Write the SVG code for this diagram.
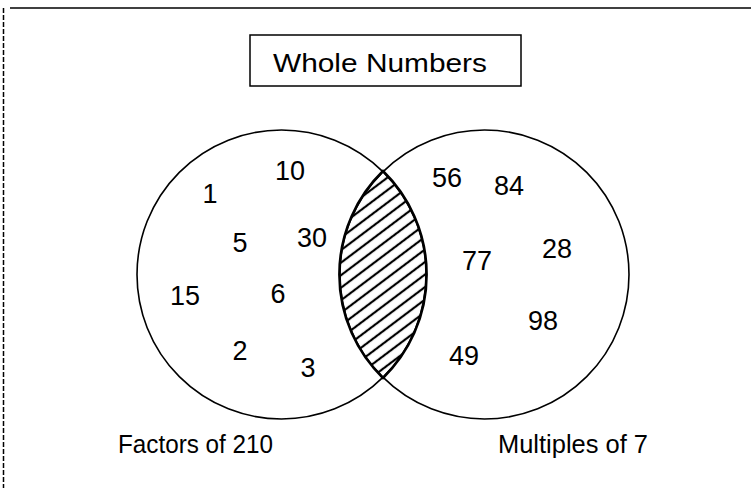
<svg xmlns="http://www.w3.org/2000/svg" width="751" height="488" viewBox="0 0 751 488">
<style>
.num{font-family:"Liberation Sans",Arial,sans-serif;font-size:27px;fill:#000;text-anchor:middle}
.lbl{font-family:"Liberation Sans",Arial,sans-serif;font-size:26px;fill:#000}
.circ{fill:none;stroke:#000;stroke-width:1.6}
</style>
<defs>
<pattern id="hatch" patternUnits="userSpaceOnUse" width="10" height="10" patternTransform="rotate(-37)">
<line x1="-1" y1="5" x2="11" y2="5" stroke="#000" stroke-width="2.2"/>
</pattern>
</defs>
<rect width="751" height="488" fill="#fff"/>
<g id="frame">
<line x1="10" y1="8" x2="751" y2="8" stroke="#000" stroke-width="1.5"/>
<line x1="3.5" y1="8" x2="3.5" y2="488" stroke="#000" stroke-width="1.5" stroke-dasharray="5 2"/>
</g>
<g id="title">
<rect x="250" y="35" width="271" height="51" fill="none" stroke="#000" stroke-width="1.5"/>
<text x="273" y="72" class="lbl" font-size="27" textLength="214" lengthAdjust="spacingAndGlyphs">Whole Numbers</text>
</g>
<g id="intersection">
<path d="M383,171 A144.5,144.5 0 0,0 383,378 A144.5,144.5 0 0,0 383,171 Z" fill="url(#hatch)" stroke="#000" stroke-width="2.5"/>
</g>
<g id="factors">
<circle cx="281.5" cy="274.5" r="144.5" class="circ"/>
<text x="210" y="203" class="num">1</text>
<text x="290" y="180" class="num">10</text>
<text x="240" y="252" class="num">5</text>
<text x="312" y="247" class="num">30</text>
<text x="185" y="305" class="num">15</text>
<text x="278" y="303" class="num">6</text>
<text x="240" y="360" class="num">2</text>
<text x="308" y="377" class="num">3</text>
<text x="118" y="453" class="lbl" textLength="155" lengthAdjust="spacingAndGlyphs">Factors of 210</text>
</g>
<g id="multiples">
<circle cx="484.5" cy="274.5" r="144.5" class="circ"/>
<text x="447" y="187" class="num">56</text>
<text x="509" y="195" class="num">84</text>
<text x="477" y="270" class="num">77</text>
<text x="557" y="258" class="num">28</text>
<text x="543" y="330" class="num">98</text>
<text x="464" y="365" class="num">49</text>
<text x="498" y="453" class="lbl" textLength="150" lengthAdjust="spacingAndGlyphs">Multiples of 7</text>
</g>
<g id="connectors"></g>
</svg>
